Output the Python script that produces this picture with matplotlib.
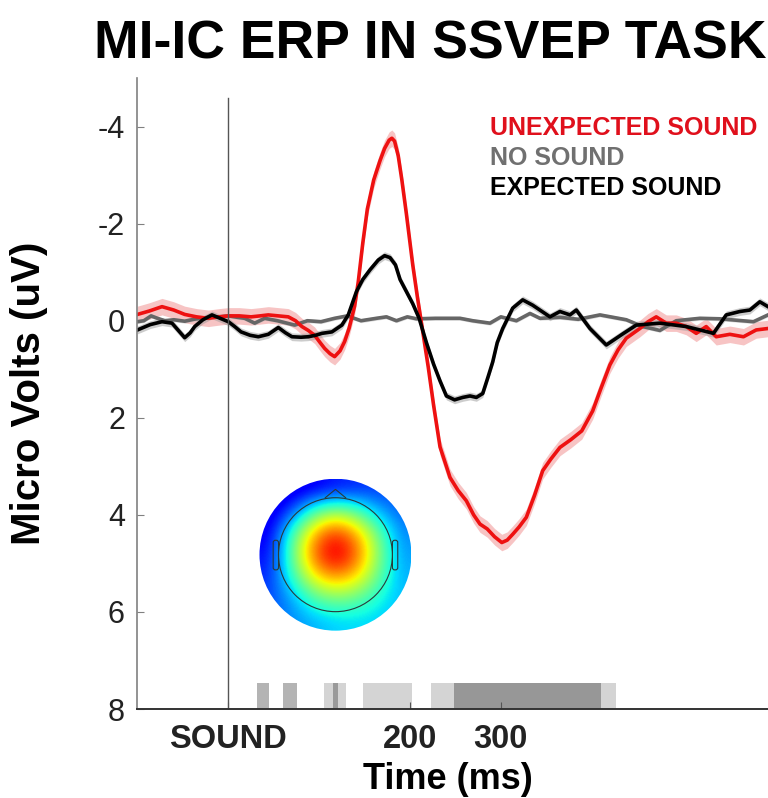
import numpy as np
import matplotlib
matplotlib.use("Agg")
import matplotlib.pyplot as plt
from matplotlib.patches import Circle, Polygon, FancyBboxPatch

plt.rcParams['font.family'] = ['Liberation Sans', 'DejaVu Sans']

# unexpected sound (red)
red_t = [-100, -87, -73, -60, -48, -35, -22, -10, 0, 12, 25, 35, 44, 55, 66, 74, 81, 88, 95,
         101, 106, 112, 117, 123, 128, 133, 139, 143, 148, 153, 160, 167, 172, 177, 180, 183,
         187, 191, 196, 203, 208, 213, 220, 226, 233, 244, 253, 262, 270, 277, 285, 293, 301,
         307, 313, 320, 328, 337, 346, 355, 365, 377, 389, 401, 410, 420, 429, 438, 453, 462,
         471, 482, 493, 504, 515, 526, 537, 552, 567, 581, 594]
red_v = [-0.13, -0.2, -0.29, -0.22, -0.13, -0.08, -0.05, -0.08, -0.1, -0.1, -0.08, -0.1, -0.12,
         -0.1, -0.08, 0.0, 0.12, 0.2, 0.3, 0.45, 0.57, 0.68, 0.74, 0.62, 0.43, 0.15, -0.3, -0.8,
         -1.6, -2.3, -2.9, -3.3, -3.55, -3.72, -3.76, -3.7, -3.4, -2.9, -2.2, -1.15, -0.5, 0.1,
         0.95, 1.75, 2.6, 3.23, 3.5, 3.71, 4.0, 4.19, 4.29, 4.45, 4.57, 4.52, 4.4, 4.25, 4.05,
         3.6, 3.09, 2.85, 2.61, 2.45, 2.27, 1.86, 1.4, 0.91, 0.6, 0.36, 0.16, 0.02, -0.08, 0.05,
         0.05, 0.12, 0.26, 0.12, 0.33, 0.28, 0.33, 0.19, 0.16]

# no sound (gray)
gray_t = [-100, -93, -85, -78, -70, -60, -48, -38, -22, -10, 0, 10, 18, 29, 40, 54, 73, 87, 102,
          117, 131, 146, 163, 174, 185, 197, 207, 228, 255, 269, 288, 300, 317, 332, 343, 365,
          385, 409, 438, 456, 475, 493, 519, 541, 578, 594]
gray_v = [0.02, 0.0, -0.1, -0.05, 0.0, -0.02, 0.01, -0.03, -0.07, -0.08, -0.1, -0.07, -0.05,
          0.05, -0.05, 0.0, 0.09, 0.0, 0.02, -0.05, -0.1, 0.0, -0.05, -0.08, 0.0, -0.08, -0.04,
          -0.05, -0.05, 0.0, 0.05, -0.08, 0.0, -0.15, -0.05, -0.07, -0.03, -0.12, -0.02, 0.12,
          0.2, 0.0, -0.05, -0.04, 0.02, -0.12]

# expected sound (black)
black_t = [-100, -86, -73, -62, -55, -48, -42, -37, -28, -18, -9, 0, 7, 14, 24, 33, 44, 55, 63,
           70, 80, 88, 96, 103, 114, 125, 132, 141, 148, 156, 165, 172, 178, 184, 189, 196, 203,
           210, 218, 226, 233, 240, 249, 258, 266, 273, 280, 286, 291, 296, 302, 313, 324, 335,
           354, 365, 376, 383, 398, 416, 435, 449, 475, 504, 534, 548, 563, 574, 585, 594]
black_v = [0.19, 0.08, 0.02, 0.05, 0.2, 0.35, 0.25, 0.12, -0.02, -0.12, -0.05, 0.02, 0.12, 0.23,
           0.3, 0.33, 0.28, 0.14, 0.25, 0.33, 0.34, 0.33, 0.3, 0.26, 0.23, 0.09, -0.12, -0.6,
           -0.85, -1.05, -1.25, -1.34, -1.3, -1.15, -0.85, -0.6, -0.35, -0.05, 0.45, 0.9, 1.24,
           1.55, 1.63, 1.58, 1.55, 1.58, 1.5, 1.15, 0.85, 0.45, 0.16, -0.26, -0.43, -0.32, -0.08,
           -0.19, -0.12, -0.22, 0.16, 0.5, 0.26, 0.09, 0.05, 0.12, 0.26, -0.12, -0.19, -0.22,
           -0.39, -0.29]

# significance bars along the bottom (start ms, end ms, shade)
sig_start = [32, 60, 105, 115, 148, 223, 248]
sig_end = [45, 76, 129, 121, 202, 427, 410]
sig_color = ['#b4b4b4', '#b4b4b4', '#d4d4d4', '#9a9a9a', '#d4d4d4', '#d4d4d4', '#979797']

# scalp map values (rows top -> bottom)
topo = np.array([
    [0.05, 0.07, 0.10, 0.14, 0.16, 0.18, 0.20],
    [0.07, 0.20, 0.44, 0.54, 0.46, 0.30, 0.22],
    [0.10, 0.42, 0.72, 0.88, 0.74, 0.48, 0.26],
    [0.13, 0.46, 0.80, 0.98, 0.82, 0.52, 0.28],
    [0.16, 0.40, 0.65, 0.76, 0.68, 0.47, 0.30],
    [0.19, 0.28, 0.44, 0.50, 0.47, 0.38, 0.31],
    [0.22, 0.26, 0.30, 0.33, 0.34, 0.33, 0.32],
])

fig = plt.figure(figsize=(7.68, 7.98), dpi=100)
ax = fig.add_axes([0.179, 0.1115, 0.821, 0.7907])

red_t = np.array(red_t); red_v = np.array(red_v)
black_t = np.array(black_t); black_v = np.array(black_v)
gray_t = np.array(gray_t); gray_v = np.array(gray_v)

ax.fill_between(red_t, red_v - 0.17, red_v + 0.17, color='#f5b0b0', alpha=0.75, lw=0)
ax.fill_between(black_t, black_v - 0.08, black_v + 0.08, color='#9a9a9a', alpha=0.5, lw=0)
ax.fill_between(gray_t, gray_v - 0.04, gray_v + 0.04, color='#bbbbbb', alpha=0.5, lw=0)

ax.plot(gray_t, gray_v, color='#666666', lw=2.6, solid_joinstyle='round')
ax.plot(red_t, red_v, color='#ee1111', lw=2.6, solid_joinstyle='round')
ax.plot(black_t, black_v, color='black', lw=2.6, solid_joinstyle='round')

for s, e, c in zip(sig_start, sig_end, sig_color):
    ax.broken_barh([(s, e - s)], (7.46, 0.54), facecolors=c, lw=0)

ax.plot([0, 0], [-4.59, 8], color='#555555', lw=1)

ax.set_xlim(-100, 594)
ax.set_ylim(8, -5)

ax.spines['top'].set_visible(False)
ax.spines['right'].set_visible(False)
ax.spines['left'].set_color('#808080')
ax.spines['left'].set_linewidth(1.2)
ax.spines['bottom'].set_color('#333333')
ax.spines['bottom'].set_linewidth(1.4)

ax.set_yticks([-4, -2, 0, 2, 4, 6, 8])
ax.set_yticklabels(['-4', '-2', '0', '2', '4', '6', '8'])
ax.set_xticks([0, 200, 300])
ax.set_xticklabels(['SOUND', '200', '300'], fontweight='bold')
ax.tick_params(axis='y', direction='in', length=5, color='#808080', labelsize=22,
               labelcolor='#222222', pad=9)
ax.tick_params(axis='x', direction='in', length=5, color='#555555', labelsize=23.5,
               labelcolor='#222222', pad=11)

fig.text(0.56, 0.927, 'MI-IC ERP IN SSVEP TASK', ha='center', va='baseline',
         fontsize=38.5, fontweight='bold')
fig.text(0.038, 0.5075, 'Micro Volts (uV)', rotation=90, ha='center', va='center',
         fontsize=29, fontweight='bold')
fig.text(0.583, 0.011, 'Time (ms)', ha='center', va='baseline', fontsize=26, fontweight='bold')

fig.text(0.638, 0.831, 'UNEXPECTED SOUND', color='#e0101c', fontsize=18, fontweight='bold')
fig.text(0.638, 0.793, 'NO SOUND', color='#707070', fontsize=18, fontweight='bold')
fig.text(0.638, 0.756, 'EXPECTED SOUND', color='black', fontsize=18, fontweight='bold')

# scalp map inset
tax = fig.add_axes([0.3359, 0.2078, 0.2018, 0.1942])
tax.set_xlim(-1.02, 1.02)
tax.set_ylim(-1.02, 1.02)
tax.set_aspect('equal')
tax.axis('off')
im = tax.imshow(topo, cmap='jet', vmin=0, vmax=1, extent=[-1, 1, -1, 1],
                interpolation='bicubic', origin='upper')
disk = Circle((0, 0), 1.0, transform=tax.transData)
im.set_clip_path(disk)
tax.add_patch(Circle((0, 0), 0.75, fill=False, ec='#2a3a3a', lw=0.8))
tax.add_patch(Polygon([[-0.14, 0.745], [0, 0.86], [0.14, 0.745]], closed=False,
                      fill=False, ec='#2a3a3a', lw=0.8))
for sx in (-1, 1):
    tax.add_patch(FancyBboxPatch((sx * 0.785 - 0.035, -0.2), 0.07, 0.39,
                                 boxstyle='round,pad=0,rounding_size=0.03',
                                 fill=False, ec='#2a3a3a', lw=0.8))

fig.savefig('out.png', dpi=100)
